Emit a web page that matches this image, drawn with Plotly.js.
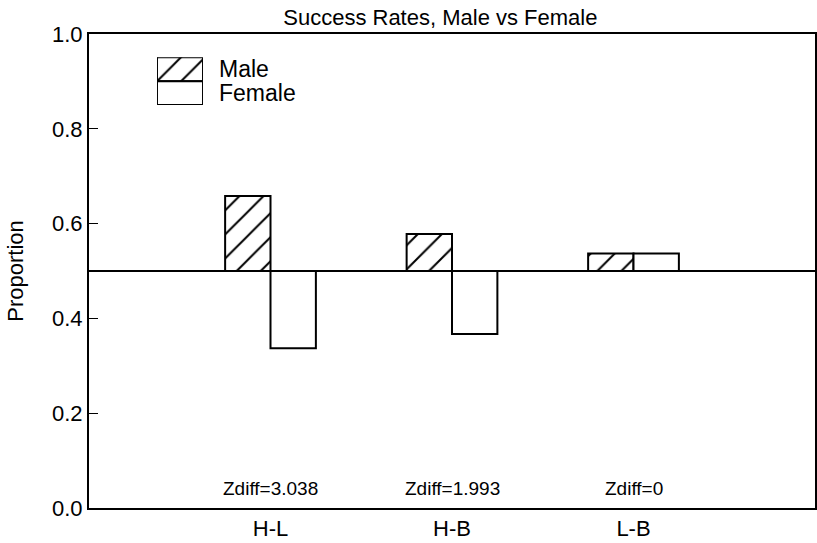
<!DOCTYPE html>
<html>
<head>
<meta charset="utf-8">
<script src="https://cdn.plot.ly/plotly-3.0.1.min.js"></script>
<style>html,body{margin:0;padding:0;background:#fff;}#chart{width:817px;height:543px;}</style>
</head>
<body>
<div id="chart"></div>
<script>
// ---- data ----
const categories = ['H-L', 'H-B', 'L-B'];
const maleRates = [0.658, 0.578, 0.537];
const femaleRates = [0.337, 0.367, 0.537];
const zdiffValues = ['3.038', '1.993', '0'];
const seriesNames = ['Male', 'Female'];
const baseline = 0.5;
const yTickVals = [0.0, 0.2, 0.4, 0.6, 0.8, 1.0];
const yTickText = ['0.0', '0.2', '0.4', '0.6', '0.8', '1.0'];

const FONT = 'Liberation Sans, Arial, Helvetica, sans-serif';
const hatch = {shape: '/', fgcolor: '#000', bgcolor: '#fff', size: 17, solidity: 0.12, fillmode: 'replace'};

const male = {
  type: 'bar', name: seriesNames[0], x: categories,
  y: maleRates.map(v => v - baseline), base: categories.map(() => baseline),
  width: 0.25, offset: -0.25,
  marker: {color: '#fff', pattern: hatch, line: {color: '#000', width: 2}},
  showlegend: false, hoverinfo: 'skip'
};
const female = {
  type: 'bar', name: seriesNames[1], x: categories,
  y: femaleRates.map(v => v - baseline), base: categories.map(() => baseline),
  width: 0.25, offset: 0,
  marker: {color: '#fff', line: {color: '#000', width: 2}},
  showlegend: false, hoverinfo: 'skip'
};
// legend keys drawn on a small auxiliary axis
const keyMale = {
  type: 'bar', xaxis: 'x2', yaxis: 'y2', x: [0], y: [1], base: [1], width: 1,
  marker: {color: '#fff', pattern: hatch, line: {color: '#000', width: 2}},
  showlegend: false, hoverinfo: 'skip'
};
const keyFemale = {
  type: 'bar', xaxis: 'x2', yaxis: 'y2', x: [0], y: [1], base: [0], width: 1,
  marker: {color: '#fff', line: {color: '#000', width: 2}},
  showlegend: false, hoverinfo: 'skip'
};

const annotations = categories.map((c, i) => ({
  x: c, y: 0.042, xref: 'x', yref: 'y', text: 'Zdiff=' + zdiffValues[i],
  showarrow: false, xanchor: 'center', yanchor: 'middle',
  font: {family: FONT, size: 19, color: '#000'}
}));
seriesNames.forEach((n, i) => annotations.push({
  x: 1, y: i === 0 ? 1.5 : 0.5, xref: 'x2 domain', yref: 'y2', xshift: 14,
  text: n, showarrow: false, xanchor: 'left', yanchor: 'middle',
  font: {family: FONT, size: 23, color: '#000'}
}));

const layout = {
  width: 817, height: 543,
  margin: {l: 89, r: 2, t: 34, b: 35},
  paper_bgcolor: '#fff', plot_bgcolor: '#fff',
  font: {family: FONT, size: 22, color: '#000'},
  title: {text: 'Success Rates, Male vs Female', x: 0.539, xanchor: 'center',
          y: 0.968, yanchor: 'middle', yref: 'container', font: {family: FONT, size: 22, color: '#000'}},
  barmode: 'overlay',
  xaxis: {
    type: 'category', range: [-1, 3], showgrid: false, zeroline: false,
    showline: true, linecolor: '#000', linewidth: 2, mirror: true,
    ticks: '', tickfont: {family: FONT, size: 22, color: '#000'}, fixedrange: true
  },
  yaxis: {
    range: [0, 1], tickvals: yTickVals, ticktext: yTickText,
    showgrid: false, zeroline: false,
    showline: true, linecolor: '#000', linewidth: 2, mirror: true,
    ticks: 'inside', ticklen: 9, tickwidth: 1, tickcolor: '#000',
    tickfont: {family: FONT, size: 22, color: '#000'},
    title: {text: 'Proportion', font: {family: FONT, size: 22, color: '#000'}, standoff: 22},
    fixedrange: true
  },
  xaxis2: {domain: [0.0937, 0.157], range: [-0.5, 0.5], anchor: 'y2', visible: false, fixedrange: true},
  yaxis2: {domain: [0.850, 0.951], range: [0, 2], anchor: 'x2', visible: false, fixedrange: true},
  shapes: [{type: 'line', xref: 'paper', yref: 'y', x0: 0, x1: 1, y0: baseline, y1: baseline,
            line: {color: '#000', width: 2}}],
  annotations: annotations
};

Plotly.newPlot('chart', [male, female, keyMale, keyFemale], layout, {displayModeBar: false, staticPlot: true});
</script>
</body>
</html>
